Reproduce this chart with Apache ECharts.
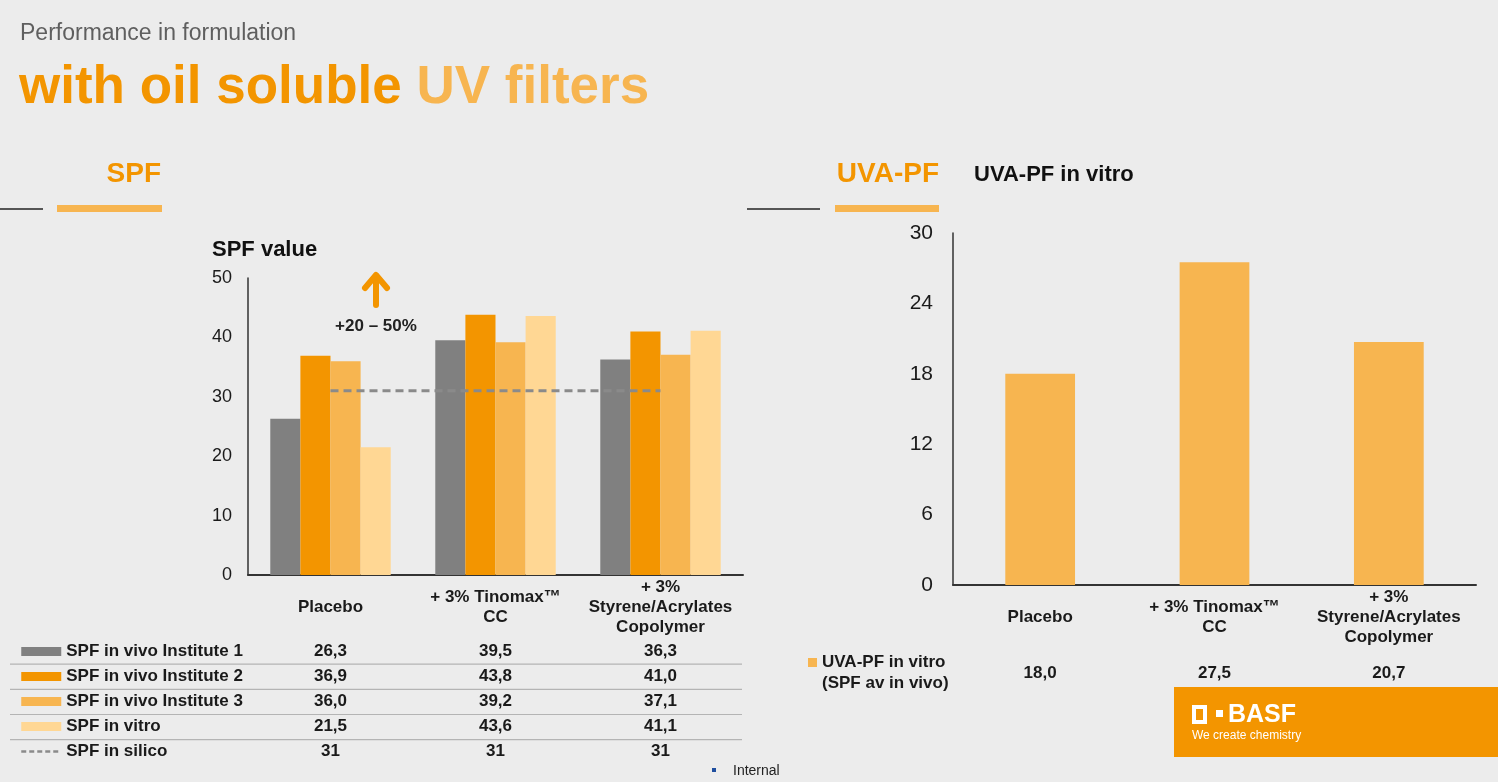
<!DOCTYPE html>
<html lang="en">
<head>
    <meta charset="UTF-8">
    <title>Performance in formulation - with oil soluble UV filters</title>
    <script src="https://cdn.jsdelivr.net/npm/echarts@6/dist/echarts.min.js"></script>
    <style>
        html, body { margin: 0; padding: 0; background: #ececec; }
        #chart { width: 1498px; height: 782px; }
    </style>
</head>
<body>
    <div id="chart"></div>

    <script>
        // Data
        var categories = ['Placebo', '+ 3% Tinomax\u2122\nCC', '+ 3%\nStyrene/Acrylates\nCopolymer'];
        var spfNames = ['SPF in vivo Institute 1', 'SPF in vivo Institute 2', 'SPF in vivo Institute 3', 'SPF in vitro'];
        var spfInstitute1 = [26.3, 39.5, 36.3];
        var spfInstitute2 = [36.9, 43.8, 41.0];
        var spfInstitute3 = [36.0, 39.2, 37.1];
        var spfInVitro = [21.5, 43.6, 41.1];
        var silicoName = 'SPF in silico';
        var spfInSilico = [31, 31, 31];
        var uvaName = 'UVA-PF in vitro';
        var uvaInVitro = [18.0, 27.5, 20.7];

        var spfColors = ['#808080', '#F39500', '#F7B550', '#FFD794'];
        var font = "'Liberation Sans', Arial, sans-serif";

        function fmt1(v) { return v.toFixed(1).replace('.', ','); }

        var chart = echarts.init(document.getElementById('chart'));

        var spfSeries = [spfInstitute1, spfInstitute2, spfInstitute3, spfInVitro].map(function (d, i) {
            return {
                name: spfNames[i],
                type: 'bar',
                xAxisIndex: 0,
                yAxisIndex: 0,
                data: d,
                barGap: '0%',
                barCategoryGap: '27%',
                itemStyle: { color: spfColors[i] }
            };
        });

        var axisLabelX = {
            interval: 0,
            fontFamily: font,
            fontSize: 17,
            fontWeight: 'bold',
            color: '#1a1a1a',
            lineHeight: 20,
            verticalAlign: 'middle',
            margin: 32
        };

        var legendText = { fontFamily: font, fontSize: 17, fontWeight: 'bold', color: '#1a1a1a', lineHeight: 19 };

        var option = {
            backgroundColor: '#ececec',
            animation: false,
            textStyle: { fontFamily: font },
            grid: [
                { left: 248, top: 278, width: 495, height: 297 },
                { left: 953, top: 233, width: 523, height: 352 }
            ],
            xAxis: [
                {
                    type: 'category', gridIndex: 0, data: categories,
                    axisTick: { show: false },
                    axisLine: { lineStyle: { color: '#333', width: 2 } },
                    axisLabel: axisLabelX
                },
                {
                    type: 'category', gridIndex: 1, data: categories,
                    axisTick: { show: false },
                    axisLine: { lineStyle: { color: '#333', width: 2 } },
                    axisLabel: axisLabelX
                }
            ],
            yAxis: [
                {
                    type: 'value', gridIndex: 0, min: 0, max: 50, interval: 10,
                    splitLine: { show: false },
                    axisLine: { show: true, lineStyle: { color: '#333', width: 1.5 } },
                    axisLabel: { fontFamily: font, fontSize: 18, color: '#1a1a1a', margin: 16 }
                },
                {
                    type: 'value', gridIndex: 1, min: 0, max: 30, interval: 6,
                    splitLine: { show: false },
                    axisLine: { show: true, lineStyle: { color: '#333', width: 1.5 } },
                    axisLabel: { fontFamily: font, fontSize: 21, color: '#1a1a1a', margin: 20 }
                }
            ],
            legend: [
                {
                    data: spfNames.map(function (n) { return { name: n, icon: 'rect' }; })
                        .concat([{
                            name: silicoName,
                            itemStyle: { color: 'rgba(0,0,0,0)', opacity: 0, borderWidth: 0 },
                            lineStyle: { color: '#8a8a8a', width: 2.5, type: [5, 3] }
                        }]),
                    orient: 'vertical',
                    left: 20,
                    top: 642,
                    padding: 0,
                    itemWidth: 40,
                    itemHeight: 9,
                    itemGap: 6,
                    selectedMode: false,
                    textStyle: legendText
                },
                {
                    data: [uvaName],
                    orient: 'vertical',
                    left: 808,
                    top: 653,
                    padding: 0,
                    icon: 'rect',
                    itemWidth: 9,
                    itemHeight: 9,
                    selectedMode: false,
                    textStyle: legendText
                }
            ],
            series: spfSeries.concat([
                {
                    name: silicoName,
                    type: 'line',
                    xAxisIndex: 0,
                    yAxisIndex: 0,
                    data: spfInSilico,
                    symbol: 'none',
                    lineStyle: { color: '#8a8a8a', width: 3, type: [8, 5] },
                    itemStyle: { color: '#8a8a8a' },
                    z: 5
                },
                {
                    name: uvaName,
                    type: 'bar',
                    xAxisIndex: 1,
                    yAxisIndex: 1,
                    data: uvaInVitro,
                    barWidth: '40%',
                    itemStyle: { color: '#F7B550' }
                }
            ])
        };

        chart.setOption(option);

        // Static decorations: headers, section bars, annotation arrow, footer
        var graphics = [
            { type: 'text', x: 20, y: 34, style: { text: 'Performance in formulation', font: '23px ' + font, fill: '#5f5f5f', textVerticalAlign: 'middle' } },
            { type: 'text', x: 19, y: 88, style: {
                text: '{a|with oil soluble }{b|UV filters}',
                rich: {
                    a: { fontFamily: font, fontSize: 53, fontWeight: 'bold', fill: '#F39500' },
                    b: { fontFamily: font, fontSize: 53, fontWeight: 'bold', fill: '#F7B550' }
                },
                textVerticalAlign: 'middle'
            } },
            // SPF section header
            { type: 'rect', shape: { x: 0, y: 208, width: 43, height: 2 }, style: { fill: '#555' } },
            { type: 'rect', shape: { x: 57, y: 205, width: 105, height: 7 }, style: { fill: '#F7B550' } },
            { type: 'text', x: 161, y: 174, style: { text: 'SPF', font: 'bold 28px ' + font, fill: '#F39500', textAlign: 'right', textVerticalAlign: 'middle' } },
            // UVA-PF section header
            { type: 'rect', shape: { x: 747, y: 208, width: 73, height: 2 }, style: { fill: '#555' } },
            { type: 'rect', shape: { x: 835, y: 205, width: 104, height: 7 }, style: { fill: '#F7B550' } },
            { type: 'text', x: 939, y: 174, style: { text: 'UVA-PF', font: 'bold 28px ' + font, fill: '#F39500', textAlign: 'right', textVerticalAlign: 'middle' } },
            { type: 'text', x: 974, y: 175, style: { text: 'UVA-PF in vitro', font: 'bold 22px ' + font, fill: '#111', textVerticalAlign: 'middle' } },
            // axis title
            { type: 'text', x: 212, y: 250, style: { text: 'SPF value', font: 'bold 22px ' + font, fill: '#111', textVerticalAlign: 'middle' } },
            // annotation arrow
            { type: 'line', shape: { x1: 376, y1: 305, x2: 376, y2: 277 }, style: { stroke: '#F39500', lineWidth: 6, lineCap: 'round' } },
            { type: 'polyline', shape: { points: [[365, 288], [376, 275], [387, 288]] }, style: { stroke: '#F39500', lineWidth: 6, lineCap: 'round', lineJoin: 'round', fill: null } },
            { type: 'text', x: 376, y: 326, style: { text: '+20 \u2013 50%', font: 'bold 17px ' + font, fill: '#222', textAlign: 'center', textVerticalAlign: 'middle' } },
            // second line of the UVA legend
            { type: 'text', x: 822, y: 683, style: { text: '(SPF av in vivo)', font: 'bold 17px ' + font, fill: '#1a1a1a', textVerticalAlign: 'middle' } },
            // BASF box
            { type: 'rect', shape: { x: 1174, y: 687, width: 324, height: 70 }, style: { fill: '#F39500' } },
            { type: 'rect', shape: { x: 1194, y: 707, width: 11, height: 15 }, style: { fill: null, stroke: '#fff', lineWidth: 4 } },
            { type: 'rect', shape: { x: 1216, y: 710, width: 7, height: 7 }, style: { fill: '#fff' } },
            { type: 'text', x: 1228, y: 715, style: { text: 'BASF', font: 'bold 25px ' + font, fill: '#fff', textVerticalAlign: 'middle' } },
            { type: 'text', x: 1192, y: 736, style: { text: 'We create chemistry', font: '12px ' + font, fill: '#fff', textVerticalAlign: 'middle' } },
            // footer
            { type: 'rect', shape: { x: 712, y: 768, width: 4, height: 4 }, style: { fill: '#1f4e9e' } },
            { type: 'text', x: 733, y: 771, style: { text: 'Internal', font: '14px ' + font, fill: '#222', textVerticalAlign: 'middle' } }
        ];

        // Table rows under the SPF chart, aligned with the category centres
        var rowY0 = 651, rowStep = 25.2;
        var spfTable = [spfInstitute1, spfInstitute2, spfInstitute3, spfInVitro];
        for (var r = 0; r < 5; r++) {
            var y = rowY0 + r * rowStep;
            for (var c = 0; c < categories.length; c++) {
                var px = chart.convertToPixel({ xAxisIndex: 0, yAxisIndex: 0 }, [c, 0])[0];
                var txt = r < 4 ? fmt1(spfTable[r][c]) : String(spfInSilico[c]);
                graphics.push({ type: 'text', x: px, y: y, style: { text: txt, font: 'bold 17px ' + font, fill: '#1a1a1a', textAlign: 'center', textVerticalAlign: 'middle' } });
            }
            if (r < 4) {
                graphics.push({ type: 'rect', shape: { x: 10, y: y + 12.5, width: 732, height: 1.2 }, style: { fill: '#b4b4b4' } });
            }
        }
        for (var k = 0; k < categories.length; k++) {
            var qx = chart.convertToPixel({ xAxisIndex: 1, yAxisIndex: 1 }, [k, 0])[0];
            graphics.push({ type: 'text', x: qx, y: 673, style: { text: fmt1(uvaInVitro[k]), font: 'bold 17px ' + font, fill: '#1a1a1a', textAlign: 'center', textVerticalAlign: 'middle' } });
        }

        chart.setOption({ graphic: graphics });
    </script>
</body>
</html>
